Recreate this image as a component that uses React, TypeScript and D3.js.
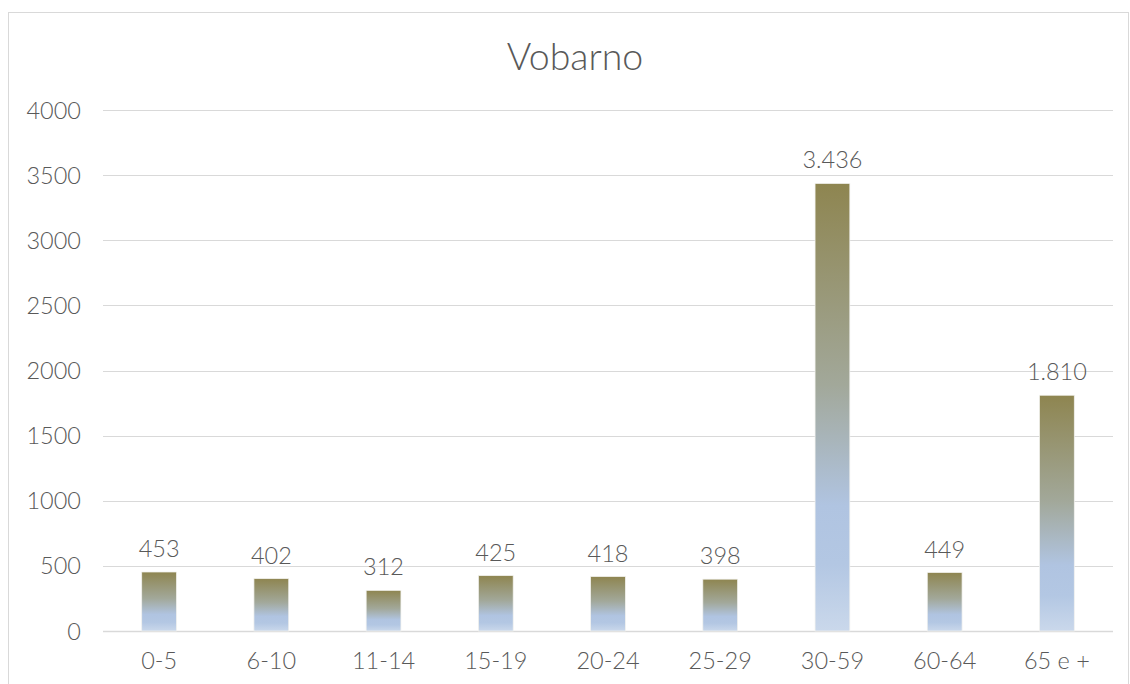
import React from "react";
import * as d3 from "d3";

const categories = ["0-5", "6-10", "11-14", "15-19", "20-24", "25-29", "30-59", "60-64", "65 e +"];
const values = [453, 402, 312, 425, 418, 398, 3436, 449, 1810];
const yTicks = [0, 500, 1000, 1500, 2000, 2500, 3000, 3500, 4000];
const title = "Vobarno";

const W = 1130;
const H = 684;
const plot = { left: 103, right: 1113, top: 110, bottom: 631 };
const FONT = "Lato, 'Open Sans', sans-serif";
const TXT = "#595959";

const locale = d3.formatLocale({ decimal: ",", thousands: ".", grouping: [3], currency: ["€", ""] });
const fmt = locale.format(",d");

export default function App() {
  const x = d3.scaleBand<string>().domain(categories).range([plot.left, plot.right]).paddingInner(0).paddingOuter(0);
  const y = d3.scaleLinear().domain([0, 4000]).range([plot.bottom, plot.top]);
  const bw = x.bandwidth() * 0.31;
  return (
    <svg width={W} height={H} style={{ position: "absolute", left: 0, top: 0 }}>
      <defs>
        <linearGradient id="barGrad" x1="0" y1="0" x2="0" y2="1">
          <stop offset="0" stopColor="#8E8550" />
          <stop offset="0.45" stopColor="#A2A89A" />
          <stop offset="0.72" stopColor="#B0C4E1" />
          <stop offset="0.85" stopColor="#B3C7E3" />
          <stop offset="1" stopColor="#CAD8EB" />
        </linearGradient>
      </defs>
      <rect x={0} y={0} width={W} height={H} fill="#fff" />
      <rect x={8.5} y={12.5} width={1120} height={700} fill="#fff" stroke="#D9D9D9" strokeWidth={1} />
      <text x={575} y={70} textAnchor="middle" fontFamily={FONT} fontWeight={300} fontSize={37.5} fill={TXT}>
        {title}
      </text>
      {yTicks.map((t) => (
        <g key={t}>
          <line x1={plot.left} x2={plot.right} y1={Math.round(y(t)) + 0.5} y2={Math.round(y(t)) + 0.5} stroke="#D9D9D9" strokeWidth={t === 0 ? 1.5 : 1} />
          <text x={81} y={y(t) + 8.5} textAnchor="end" fontFamily={FONT} fontWeight={300} fontSize={23.5} fill={TXT}>
            {t}
          </text>
        </g>
      ))}
      {categories.map((c, i) => {
        const cx = (x(c) as number) + x.bandwidth() / 2;
        const v = values[i];
        return (
          <g key={c}>
            <rect x={cx - bw / 2} y={y(v)} width={bw} height={y(0) - y(v)} fill="url(#barGrad)" stroke="#F2F2EE" strokeWidth={0.75} />
            <text x={cx} y={y(v) - 15} textAnchor="middle" fontFamily={FONT} fontWeight={300} fontSize={23.5} fill={TXT}>
              {fmt(v)}
            </text>
            <text x={cx} y={669} textAnchor="middle" fontFamily={FONT} fontWeight={300} fontSize={23.5} fill={TXT}>
              {c}
            </text>
          </g>
        );
      })}
    </svg>
  );
}
